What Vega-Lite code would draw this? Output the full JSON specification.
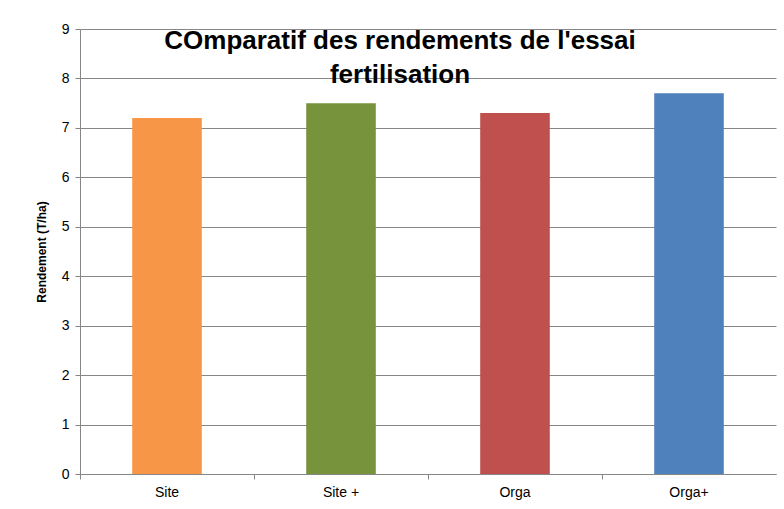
{
  "$schema": "https://vega.github.io/schema/vega-lite/v6.json",
  "width": 696,
  "height": 445,
  "autosize": "none",
  "padding": {"left": 80, "top": 29, "right": 8, "bottom": 35},
  "background": "white",
  "title": {
    "text": ["COmparatif des rendements de l'essai", "fertilisation"],
    "font": "Liberation Sans",
    "fontSize": 26,
    "fontWeight": "bold",
    "color": "#000000",
    "anchor": "middle",
    "baseline": "top",
    "offset": -66,
    "dx": -28,
    "lineHeight": 34
  },
  "data": {
    "values": [
      {"traitement": "Site", "rendement": 7.2},
      {"traitement": "Site +", "rendement": 7.5},
      {"traitement": "Orga", "rendement": 7.3},
      {"traitement": "Orga+", "rendement": 7.7}
    ]
  },
  "mark": {"type": "bar", "width": {"band": 0.4}},
  "encoding": {
    "x": {
      "field": "traitement",
      "type": "nominal",
      "sort": null,
      "scale": {"paddingInner": 0, "paddingOuter": 0},
      "axis": {
        "title": null,
        "labelAngle": 0,
        "bandPosition": 0,
        "labelFont": "Liberation Sans",
        "labelFontSize": 14,
        "labelColor": "#000000",
        "labelPadding": 6,
        "domainColor": "#868686",
        "tickColor": "#868686",
        "tickSize": 5,
        "grid": false
      }
    },
    "y": {
      "field": "rendement",
      "type": "quantitative",
      "scale": {"domain": [0, 9], "nice": false},
      "axis": {
        "title": "Rendement (T/ha)",
        "titleFont": "Liberation Sans",
        "titleFontSize": 12,
        "titleFontWeight": "bold",
        "titleColor": "#000000",
        "titlePadding": 13,
        "values": [0, 1, 2, 3, 4, 5, 6, 7, 8, 9],
        "labelFont": "Liberation Sans",
        "labelFontSize": 14,
        "labelColor": "#000000",
        "labelPadding": 6,
        "domainColor": "#868686",
        "tickColor": "#868686",
        "tickSize": 5,
        "gridColor": "#868686",
        "gridWidth": 1,
        "gridOpacity": 1
      }
    },
    "color": {
      "field": "traitement",
      "type": "nominal",
      "sort": null,
      "scale": {"domain": ["Site", "Site +", "Orga", "Orga+"], "range": ["#F79646", "#77933C", "#C0504D", "#4F81BD"]},
      "legend": null
    }
  },
  "config": {"view": {"stroke": null}}
}
